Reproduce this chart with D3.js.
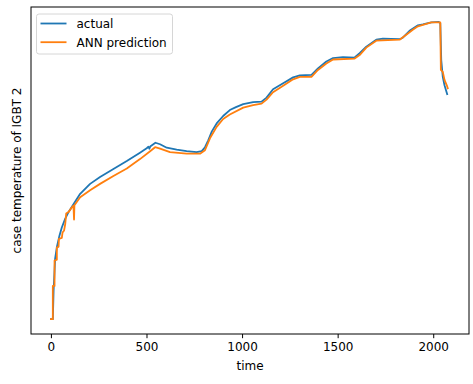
<!DOCTYPE html>
<html>
<head>
<meta charset="utf-8">
<script src="https://cdn.jsdelivr.net/npm/d3@7"></script>
<style>
  html, body { margin: 0; padding: 0; background: #fff; }
  svg { display: block; font-family: "DejaVu Sans", sans-serif; }
</style>
</head>
<body>
<svg id="chart" width="473" height="384"></svg>
<script>
// readings (time step, case temperature)
const actualTime = [0, 10, 14, 22, 31, 45, 57, 75, 92, 118, 153, 205, 257, 327, 397, 466, 501, 510, 515, 521,
  547, 571, 606, 658, 710, 762, 789, 806, 823, 842, 867, 901, 936, 968, 1006, 1058, 1102, 1128, 1162, 1215,
  1267, 1302, 1363, 1397, 1441, 1476, 1528, 1589, 1615, 1650, 1702, 1737, 1824, 1841, 1876, 1920, 1946, 1990,
  2029, 2037, 2042, 2050, 2059, 2073];
const actualTemp = [30.0, 30.0, 35.7, 42.2, 44.5, 46.9, 48.5, 50.3, 51.6, 53.2, 55.3, 57.3, 58.7, 60.3, 61.9, 63.6, 64.5, 64.8, 64.4, 64.9,
  65.6, 65.3, 64.6, 64.2, 63.9, 63.7, 63.9, 64.7, 66.1, 67.9, 69.5, 71.0, 72.2, 72.8, 73.4, 73.8, 73.9, 74.7, 76.4, 77.6,
  78.8, 79.2, 79.3, 80.6, 82.0, 82.7, 82.9, 82.8, 83.7, 85.0, 86.4, 86.6, 86.5, 86.8, 88.2, 89.3, 89.5, 89.9,
  90.0, 89.7, 82.3, 78.9, 77.2, 75.4];

const predTime = [0, 10, 10, 19, 19, 31, 31, 40, 42, 57, 61, 69, 75, 80, 92, 110, 118, 121, 123, 153,
  205, 257, 327, 397, 466, 519, 545, 571, 623, 710, 780, 806, 832, 867, 901, 936, 1006, 1058, 1102, 1128,
  1162, 1215, 1267, 1302, 1363, 1397, 1441, 1476, 1589, 1615, 1650, 1702, 1824, 1859, 1893, 1920, 1946, 1990,
  2037, 2040, 2050, 2059, 2071, 2076];
const predTemp = [30.0, 30.0, 36.7, 36.7, 41.8, 42.0, 44.5, 44.6, 46.2, 46.4, 47.5, 47.9, 49.2, 51.3, 51.6, 52.6, 52.9, 50.1, 53.0, 54.6,
  56.0, 57.3, 58.9, 60.4, 62.3, 63.9, 64.7, 64.4, 63.7, 63.4, 63.4, 64.1, 66.5, 68.8, 70.4, 71.3, 72.7, 73.2, 73.5, 74.3,
  75.8, 77.1, 78.4, 78.9, 78.9, 80.3, 81.6, 82.4, 82.6, 83.3, 84.8, 86.2, 86.4, 87.4, 88.4, 89.1, 89.4, 89.9,
  89.9, 80.3, 79.9, 78.3, 77.2, 76.6];

const sampleCount = 2084;
const xTicks = [0, 500, 1000, 1500, 2000];

const seriesNames = ["actual", "ANN prediction"];
const seriesColors = ["#1f77b4", "#ff7f0e"];

const W = 473, H = 384;
const margin = { left: 31, right: 4, top: 7, bottom: 50 };
const plotW = W - margin.left - margin.right;
const plotH = H - margin.top - margin.bottom;

const actual = actualTime.map((t, i) => ({ t, v: actualTemp[i] }));
const pred = predTime.map((t, i) => ({ t, v: predTemp[i] }));

// matplotlib-style 5% autoscale margins
const pad = (lo, hi) => { const m = (hi - lo) * 0.05; return [lo - m, hi + m]; };
const yExt = d3.extent(actualTemp.concat(predTemp));

const x = d3.scaleLinear().domain(pad(0, sampleCount - 1)).range([0, plotW]);
const y = d3.scaleLinear().domain(pad(yExt[0], yExt[1])).range([plotH, 0]);

const svg = d3.select("#chart");
const g = svg.append("g").attr("transform", `translate(${margin.left},${margin.top})`);

const line = d3.line().x(d => x(d.t)).y(d => y(d.v));

[actual, pred].forEach((data, i) => {
  g.append("path")
    .datum(data)
    .attr("fill", "none")
    .attr("stroke", seriesColors[i])
    .attr("stroke-width", 1.8)
    .attr("stroke-linejoin", "round")
    .attr("stroke-linecap", "square")
    .attr("d", line);
});

// x axis
const xAxis = g.append("g")
  .attr("transform", `translate(0,${plotH})`)
  .call(d3.axisBottom(x)
    .tickValues(xTicks)
    .tickFormat(d3.format("d"))
    .tickSize(4.2)
    .tickPadding(4.2)
    .tickSizeOuter(0));
xAxis.select(".domain").remove();
xAxis.selectAll("line").attr("stroke", "#000").attr("stroke-width", 1);
xAxis.selectAll("text")
  .attr("fill", "#000")
  .style("font-size", "12px")
  .style("font-family", "DejaVu Sans");

// frame
g.append("rect")
  .attr("x", 0).attr("y", 0)
  .attr("width", plotW).attr("height", plotH)
  .attr("fill", "none")
  .attr("stroke", "#000")
  .attr("stroke-width", 1);

// axis labels
svg.append("text")
  .attr("x", margin.left + plotW / 2)
  .attr("y", 369.5)
  .attr("text-anchor", "middle")
  .style("font-size", "12px")
  .text("time");

svg.append("text")
  .attr("transform", `translate(20.5,${margin.top + plotH / 2}) rotate(-90)`)
  .attr("text-anchor", "middle")
  .style("font-size", "12px")
  .text("case temperature of IGBT 2");

// legend
const legend = svg.append("g").attr("transform", "translate(36.5,14)");
legend.append("rect")
  .attr("width", 136).attr("height", 40)
  .attr("rx", 2.5)
  .attr("fill", "#fff").attr("fill-opacity", 0.8)
  .attr("stroke", "#d6d6d6").attr("stroke-width", 1);

seriesNames.forEach((name, i) => {
  const row = legend.append("g").attr("transform", `translate(0,${9.5 + i * 18.7})`);
  row.append("line")
    .attr("x1", 4).attr("x2", 30)
    .attr("stroke", seriesColors[i])
    .attr("stroke-width", 1.8);
  row.append("text")
    .attr("x", 40)
    .attr("y", 4.3)
    .style("font-size", "12px")
    .text(name);
});
</script>
</body>
</html>
